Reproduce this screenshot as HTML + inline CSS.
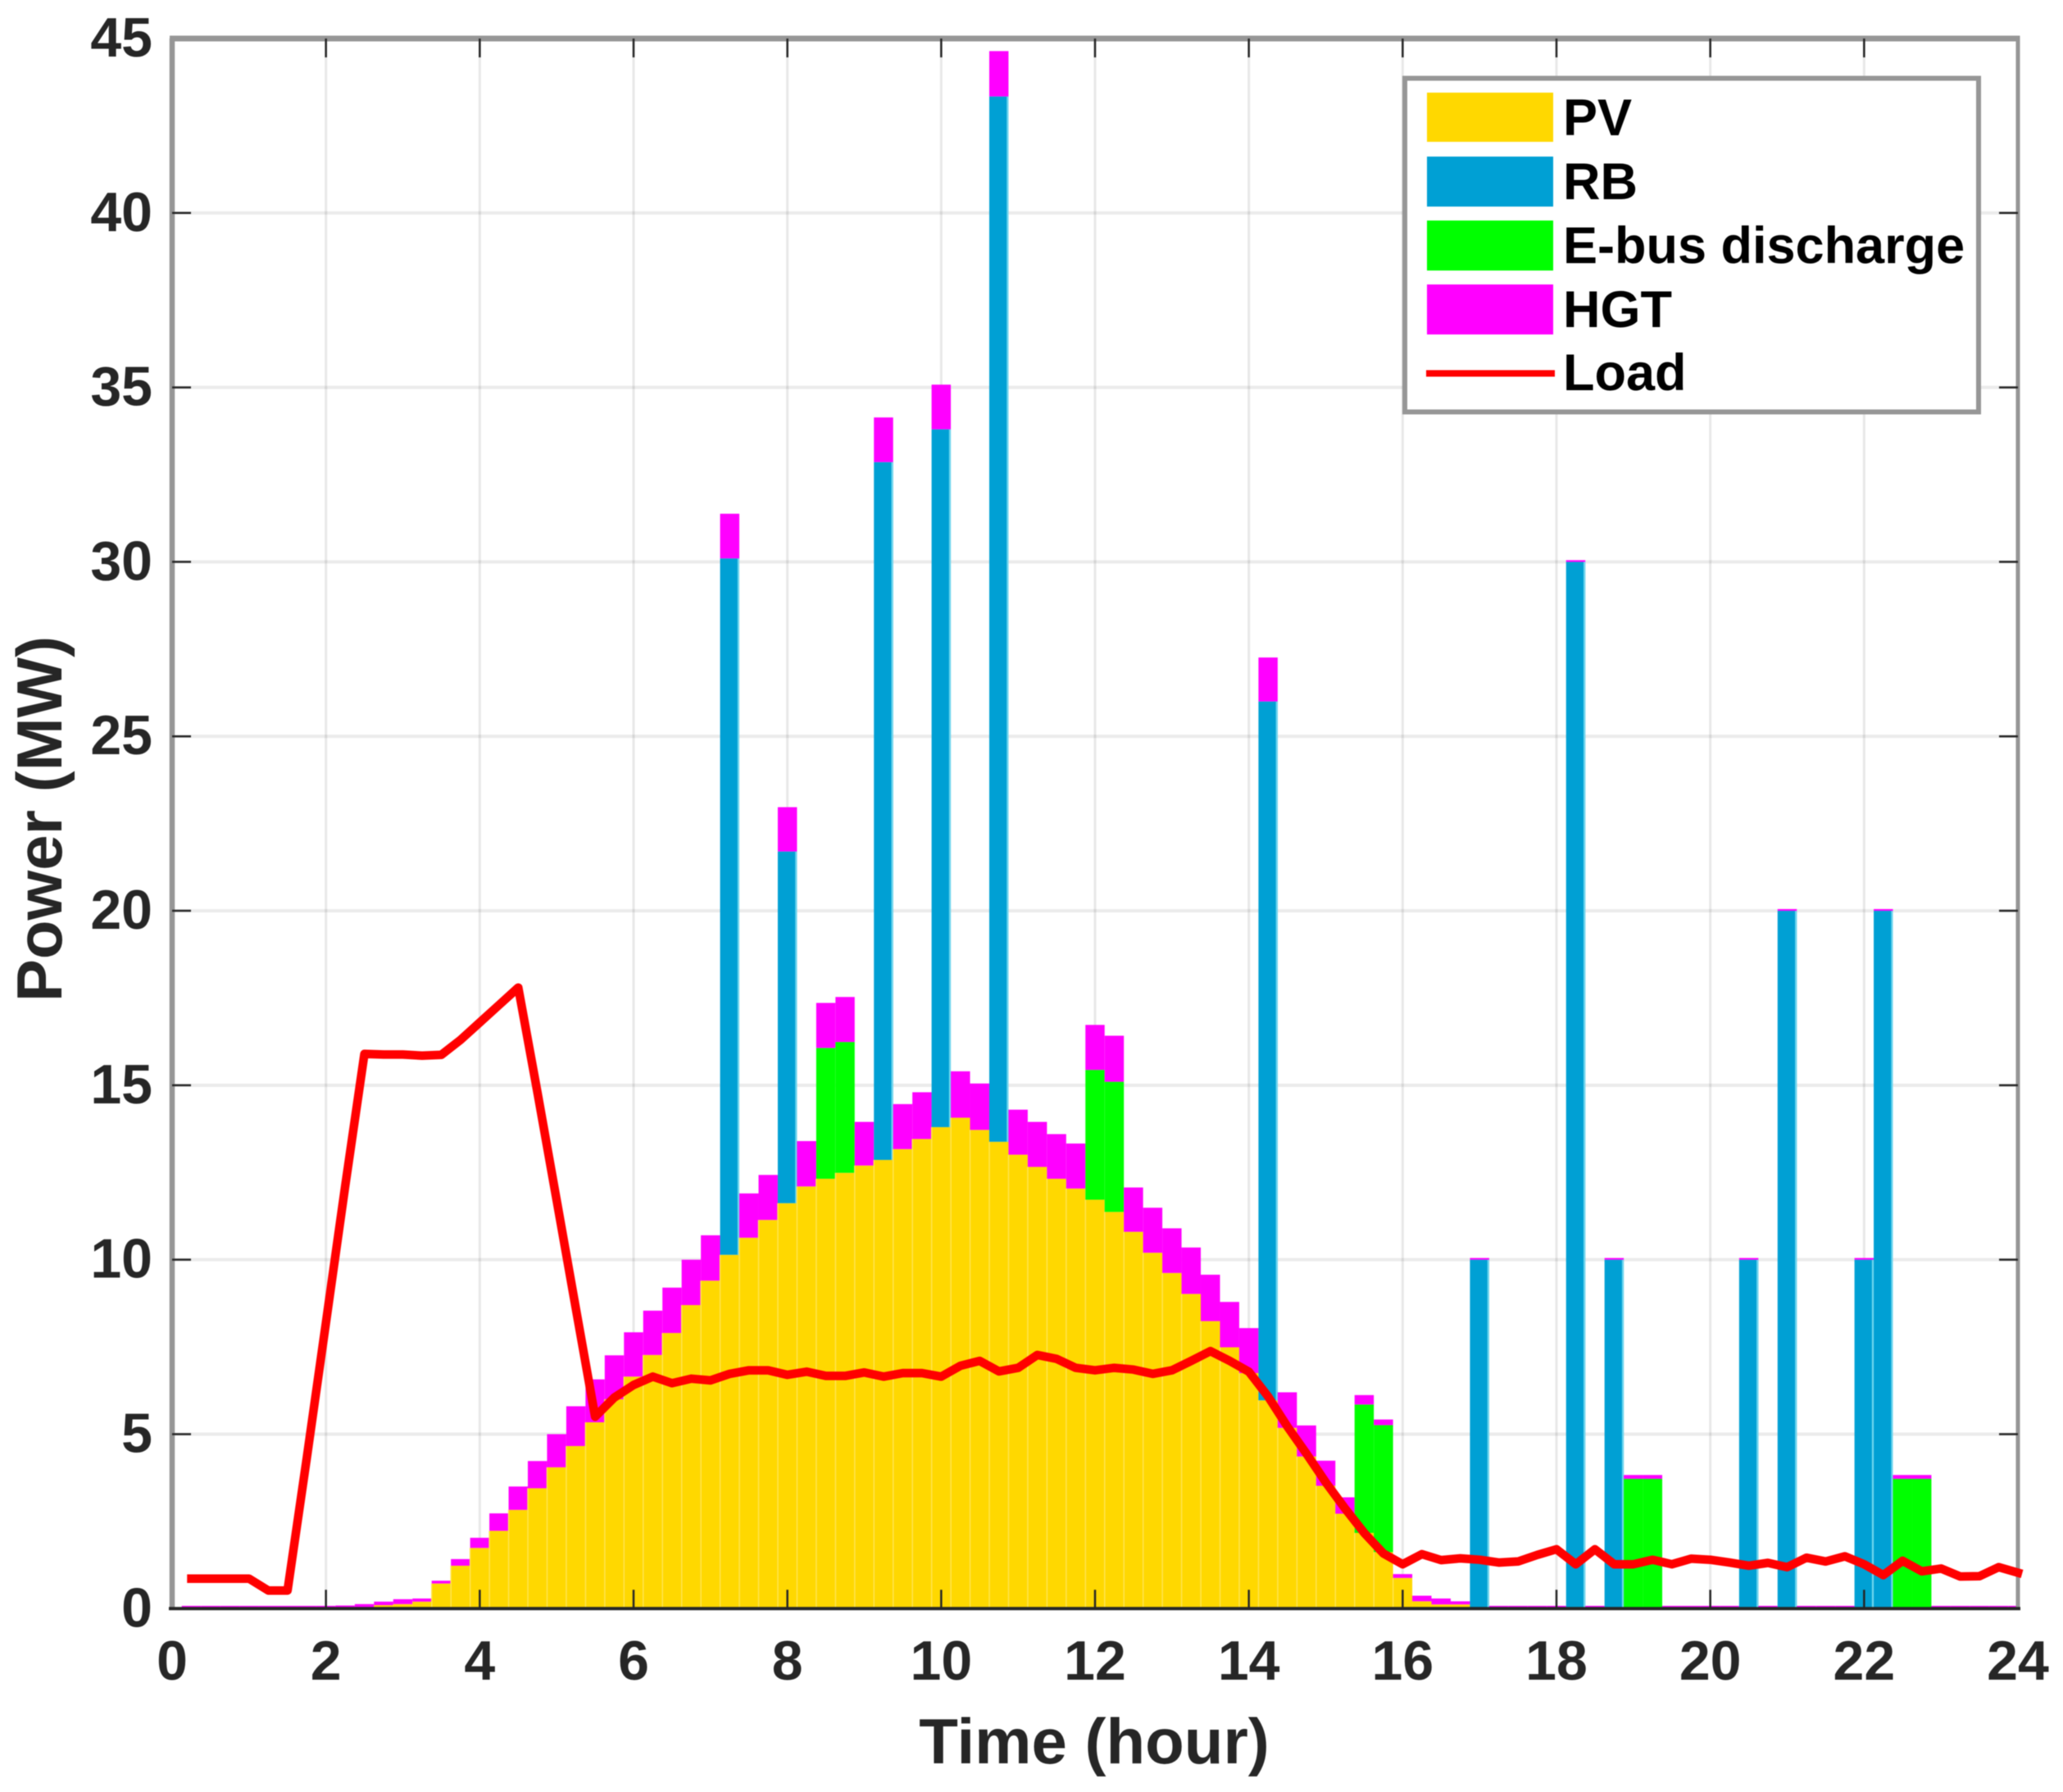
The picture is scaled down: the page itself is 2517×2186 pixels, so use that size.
<!DOCTYPE html>
<html lang="en">
<head>
<meta charset="utf-8">
<title>Power balance chart</title>
<style>
html,body{margin:0;padding:0;background:#fff;width:2517px;height:2186px;overflow:hidden}
svg{display:block;filter:blur(.6px)}
text{font-family:"Liberation Sans",Arial,sans-serif;font-weight:bold}
</style>
</head>
<body>
<svg id="chart" xmlns="http://www.w3.org/2000/svg" width="2517" height="2186" viewBox="0 0 2517 2186">
<rect x="0" y="0" width="2517" height="2186" fill="#ffffff"/>
<g id="grid"></g>
<g id="bars"></g>
<g id="frame"></g>
<path id="load-line" fill="none" stroke="#ff0000" stroke-width="10.5" stroke-linejoin="round" stroke-linecap="square"/>
<g id="xticks"></g>
<g id="yticks"></g>
<text x="1335" y="2151" font-size="78" text-anchor="middle" fill="#262626">Time (hour)</text>
<text transform="translate(75 999) rotate(-90)" font-size="78" text-anchor="middle" fill="#262626">Power (MW)</text>
<g>
<rect x="1714" y="95.5" width="700" height="407" fill="#ffffff" stroke="#969696" stroke-width="6"/>
<rect x="1741" y="113" width="154" height="60" fill="#ffd800"/>
<text x="1907" y="165" font-size="63" fill="#000">PV</text>
<rect x="1741" y="191" width="154" height="61" fill="#00a0d4"/>
<text x="1907" y="243" font-size="63" fill="#000">RB</text>
<rect x="1741" y="269" width="154" height="61" fill="#00ff00"/>
<text x="1907" y="321" font-size="63" fill="#000">E-bus discharge</text>
<rect x="1741" y="347" width="154" height="61" fill="#ff00ff"/>
<text x="1907" y="399" font-size="63" fill="#000">HGT</text>
<line x1="1740" y1="455.5" x2="1897" y2="455.5" stroke="#ff0000" stroke-width="8"/>
<text x="1907" y="476" font-size="63" fill="#000">Load</text>
</g>
</svg>
<script>
const hours=[0.25,0.5,0.75,1,1.25,1.5,1.75,2,2.25,2.5,2.75,3,3.25,3.5,3.75,4,4.25,4.5,4.75,5,5.25,5.5,5.75,6,
6.25,6.5,6.75,7,7.25,7.5,7.75,8,8.25,8.5,8.75,9,9.25,9.5,9.75,10,10.25,10.5,10.75,11,11.25,11.5,11.75,12,
12.25,12.5,12.75,13,13.25,13.5,13.75,14,14.25,14.5,14.75,15,15.25,15.5,15.75,16,16.25,16.5,16.75,17,17.25,17.5,17.75,18,
18.25,18.5,18.75,19,19.25,19.5,19.75,20,20.25,20.5,20.75,21,21.25,21.5,21.75,22,22.25,22.5,22.75,23,23.25,23.5,23.75,24];
const pv=[0,0,0,0,0,0,0,0,0,0.03,0.1,0.13,0.2,0.72,1.23,1.74,2.23,2.83,3.45,4.05,4.66,5.34,6,6.65,
7.27,7.9,8.7,9.4,10.14,10.63,11.14,11.62,12.1,12.32,12.49,12.7,12.86,13.17,13.46,13.8,14.07,13.72,13.38,13.01,12.66,12.32,12.04,11.72,
11.37,10.8,10.2,9.62,9.02,8.24,7.49,6.75,5.97,5.18,4.36,3.52,2.72,2.17,1.62,0.88,0.21,0.12,0.12,0.03,0,0,0,0,
0,0,0,0,0,0,0,0,0,0,0,0,0,0,0,0,0,0,0,0,0,0,0,0];
const rb=[0,0,0,0,0,0,0,0,0,0,0,0,0,0,0,0,0,0,0,0,0,0,0,0,
0,0,0,0,19.96,0,0,10.08,0,0,0,0,20,0,0,20,0,0,29.96,0,0,0,0,0,
0,0,0,0,0,0,0,0,20.03,0,0,0,0,0,0,0,0,0,0,9.97,0,0,0,0,
30,0,10,0,0,0,0,0,0,10,0,20,0,0,0,10,20,0,0,0,0,0,0,0];
const ebus=[0,0,0,0,0,0,0,0,0,0,0,0,0,0,0,0,0,0,0,0,0,0,0,0,
0,0,0,0,0,0,0,0,0,3.75,3.75,0,0,0,0,0,0,0,0,0,0,0,0,3.72,
3.73,0,0,0,0,0,0,0,0,0,0,0,0,3.68,3.64,0,0,0,0,0,0,0,0,0,
0,0,0,3.72,3.72,0,0,0,0,0,0,0,0,0,0,0,0,3.72,3.72,0,0,0,0,0];
const hgt=[0.08,0.08,0.08,0.08,0.08,0.08,0.08,0.08,0.09,0.1,0.1,0.14,0.09,0.08,0.19,0.29,0.5,0.67,0.78,0.95,1.14,1.23,1.26,1.27,
1.27,1.3,1.3,1.3,1.28,1.27,1.29,1.27,1.3,1.29,1.29,1.25,1.28,1.29,1.34,1.28,1.33,1.33,1.3,1.29,1.29,1.28,1.29,1.29,
1.32,1.27,1.29,1.28,1.33,1.33,1.3,1.29,1.26,1.02,0.89,0.72,0.47,0.27,0.16,0.11,0.16,0.17,0.09,0.05,0.08,0.08,0.08,0.08,
0.05,0.08,0.05,0.11,0.11,0.08,0.08,0.08,0.08,0.05,0.08,0.05,0.08,0.08,0.08,0.05,0.05,0.11,0.11,0.08,0.08,0.08,0.08,0.08];
const load=[0.86,0.86,0.86,0.86,0.52,0.52,4.3,8.2,12.1,15.9,15.88,15.88,15.85,15.87,16.3,16.8,17.3,17.8,14.8,11.7,8.6,5.5,6.05,6.41,
6.65,6.46,6.59,6.54,6.73,6.83,6.83,6.7,6.79,6.67,6.67,6.77,6.65,6.75,6.75,6.65,6.96,7.1,6.8,6.9,7.27,7.16,6.9,6.83,
6.9,6.85,6.73,6.83,7.1,7.38,7.1,6.79,6.08,5.22,4.44,3.62,2.87,2.17,1.58,1.27,1.56,1.39,1.44,1.4,1.32,1.35,1.54,1.7,
1.27,1.7,1.27,1.27,1.4,1.27,1.43,1.4,1.32,1.23,1.31,1.19,1.46,1.35,1.5,1.27,0.96,1.37,1.07,1.15,0.92,0.93,1.19,1.03];
const xTickLabels=[0,2,4,6,8,10,12,14,16,18,20,22,24];
const yTickLabels=[0,5,10,15,20,25,30,35,40,45];

const NS='http://www.w3.org/2000/svg';
const plotLeft=210,plotRight=2462,plotTop=47,plotBottom=1962.3;
const xMax=24,yMax=45,barSpan=0.25;
function xScale(h){return plotLeft+(plotRight-plotLeft)*h/xMax;}
function yScale(v){return plotBottom-(plotBottom-plotTop)*v/yMax;}
function make(tag,parent,props){
  const el=document.createElementNS(NS,tag);
  for(const key in props){el.setAttribute(key,props[key]);}
  parent.appendChild(el);
  return el;
}
const gridG=document.getElementById('grid');
xTickLabels.forEach(function(t){
  if(t===0||t===xMax){return;}
  const el=make('line',gridG,{x1:xScale(t),x2:xScale(t),y1:plotTop,y2:plotBottom,stroke:'#000','stroke-opacity':0.09,'stroke-width':3});
  
  
});
yTickLabels.forEach(function(t){
  if(t===0||t===yMax){return;}
  const el=make('line',gridG,{x1:plotLeft,x2:plotRight,y1:yScale(t),y2:yScale(t),stroke:'#000','stroke-opacity':0.08,'stroke-width':4});
  
  
});

const barsG=document.getElementById('bars');
const seriesList=[
  {name:'pv',values:pv,color:'#ffd800'},
  {name:'rb',values:rb,color:'#00a0d4'},
  {name:'ebus',values:ebus,color:'#00ff00'},
  {name:'hgt',values:hgt,color:'#ff00ff'}
];
hours.forEach(function(h,i){
  const left=xScale(h-barSpan/2),right=Math.min(xScale(h+barSpan/2),plotRight);
  let base=0;
  seriesList.forEach(function(s){
    const v=s.values[i];
    if(!(v>0)){return;}
    const y0=yScale(base),y1=yScale(base+v);
    const seg=make('rect',barsG,{x:left,y:y1,width:right-left,height:y0-y1,fill:s.color});
    
    
    if(s.name==='pv'&&v>0.5){
      const seam=make('rect',barsG,{x:left-0.7,y:y1,width:1.5,height:y0-y1,fill:'#ffe44f'});
      
      
    }
    if(s.name==='rb'){
      const edge=make('rect',barsG,{x:right-2.2,y:y1,width:2.2,height:y0-y1,fill:'#6fd6ee'});
      
      
    }
    base+=v;
  });
});

const frameG=document.getElementById('frame');
const frameLines=[
  {n:'axis-top',a:[plotLeft-3,plotTop,plotRight+2.5,plotTop],c:'#969696',w:7},
  {n:'axis-left',a:[plotLeft,plotTop,plotLeft,plotBottom],c:'#969696',w:6.5},
  {n:'axis-right',a:[plotRight,plotTop,plotRight,plotBottom],c:'#969696',w:5}
];
frameLines.forEach(function(f){
  const el=make('line',frameG,{x1:f.a[0],y1:f.a[1],x2:f.a[2],y2:f.a[3],stroke:f.c,'stroke-width':f.w});
  
  
});
const tickLen=23;
xTickLabels.forEach(function(t){
  if(t===0||t===xMax){return;}
  const a=make('line',frameG,{x1:xScale(t),x2:xScale(t),y1:plotBottom,y2:plotBottom-tickLen,stroke:'#262626','stroke-width':2.5});
  
  
  const b=make('line',frameG,{x1:xScale(t),x2:xScale(t),y1:plotTop,y2:plotTop+tickLen,stroke:'#262626','stroke-width':2.5});
  
  
});
yTickLabels.forEach(function(t){
  if(t===0||t===yMax){return;}
  const a=make('line',frameG,{x1:plotLeft,x2:plotLeft+tickLen,y1:yScale(t),y2:yScale(t),stroke:'#262626','stroke-width':2.5});
  
  
  const b=make('line',frameG,{x1:plotRight,x2:plotRight-tickLen,y1:yScale(t),y2:yScale(t),stroke:'#262626','stroke-width':2.5});
  
  
});
const baseAxis=make('line',frameG,{x1:plotLeft-4,x2:plotRight+3,y1:plotBottom,y2:plotBottom,stroke:'#262626','stroke-width':4});



let d='';
hours.forEach(function(h,i){
  d+=(i===0?'M':'L')+xScale(h).toFixed(1)+' '+yScale(load[i]).toFixed(1);
});
document.getElementById('load-line').setAttribute('d',d);

const xTicksG=document.getElementById('xticks');
xTickLabels.forEach(function(t){
  const el=make('text',xTicksG,{x:xScale(t),y:2049,'font-size':68,'text-anchor':'middle',fill:'#262626'});
  
  
  el.textContent=String(t);
});
const yTicksG=document.getElementById('yticks');
yTickLabels.forEach(function(t){
  const el=make('text',yTicksG,{x:186,y:yScale(t)+22,'font-size':68,'text-anchor':'end',fill:'#262626'});
  
  
  el.textContent=String(t);
});
</script>
</body>
</html>
